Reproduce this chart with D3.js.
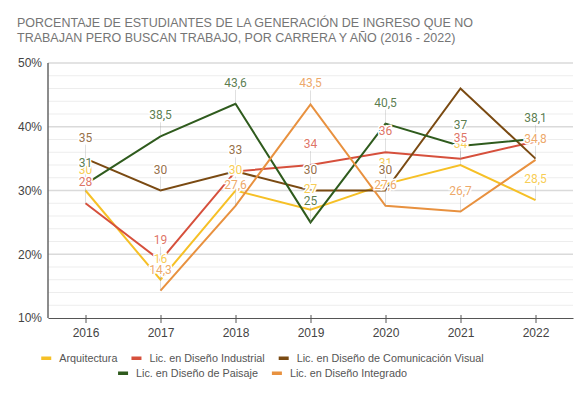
<!DOCTYPE html>
<html>
<head>
<meta charset="utf-8">
<script src="https://cdn.jsdelivr.net/npm/d3@7"></script>
<style>
  body { margin: 0; background: #fff; }
  text { font-family: Arial, "Liberation Sans", sans-serif; }
</style>
</head>
<body>
<div id="chart"></div>
<script>
// data
var years = ["2016", "2017", "2018", "2019", "2020", "2021", "2022"];
var arquitectura = [30, 16, 30, 27, 31, 34, 28.5];
var disenoIndustrial = [28, 19, 33, 34, 36, 35, 37.7];
var comunicacionVisual = [35, 30, 33, 30, 30, 46, 35];
var paisaje = [31, 38.5, 43.6, 25, 40.5, 37, 38.1];
var integrado = [null, 14.3, 27.6, 43.5, 27.6, 26.7, 34.8];
var seriesNames = ["Arquitectura", "Lic. en Diseño Industrial", "Lic. en Diseño de Comunicación Visual",
  "Lic. en Diseño de Paisaje", "Lic. en Diseño Integrado"];
var yTicks = [10, 20, 30, 40, 50];
// annotations the original leaves out (series index - year)
var hiddenLabels = ["1-2018", "1-2022", "2-2021", "2-2022"];

var colors = ["#f6c026", "#d6503c", "#7a4a12", "#2f5b1d", "#e8913f"];
var allSeries = [arquitectura, disenoIndustrial, comunicacionVisual, paisaje, integrado];

var svgWidth = 588;
var svgHeight = 395;
var margin = { top: 63, right: 15, bottom: 77, left: 48 };
var width = svgWidth - margin.left - margin.right;
var height = svgHeight - margin.top - margin.bottom;

var svg = d3.select("#chart")
  .append("svg")
  .attr("width", svgWidth)
  .attr("height", svgHeight);

// title
var title = svg.append("text")
  .attr("x", 17)
  .attr("y", 27)
  .style("font-size", "12.5px")
  .style("fill", "#757575");
title.append("tspan").attr("x", 17).text("PORCENTAJE DE ESTUDIANTES DE LA GENERACIÓN DE INGRESO QUE NO");
title.append("tspan").attr("x", 17).attr("dy", 15).text("TRABAJAN PERO BUSCAN TRABAJO, POR CARRERA Y AÑO (2016 - 2022)");

var chartGroup = svg.append("g")
  .attr("transform", `translate(${margin.left}, ${margin.top})`);

var xScale = d3.scalePoint()
  .domain(years)
  .range([0, width])
  .padding(0.5);

var yScale = d3.scaleLinear()
  .domain([10, 50])
  .range([height, 0]);

// minor + major gridlines
chartGroup.append("g")
  .selectAll("line")
  .data(d3.range(12, 50, 2).filter(v => v % 10 != 0))
  .enter()
  .append("line")
  .attr("x1", 0)
  .attr("x2", width)
  .attr("y1", d => yScale(d))
  .attr("y2", d => yScale(d))
  .attr("stroke", "#ededed");

chartGroup.append("g")
  .selectAll("line")
  .data(yTicks.slice(1))
  .enter()
  .append("line")
  .attr("x1", 0)
  .attr("x2", width)
  .attr("y1", d => yScale(d))
  .attr("y2", d => yScale(d))
  .attr("stroke", "#dadada")
  .attr("stroke-width", 1.5);

// y axis
var leftAxis = d3.axisLeft(yScale)
  .tickValues(yTicks)
  .tickSize(0)
  .tickPadding(6)
  .tickFormat(d => d + "%");

var yAxisG = chartGroup.append("g").call(leftAxis);
yAxisG.select(".domain").remove();
yAxisG.selectAll("text")
  .style("font-size", "12px")
  .style("font-family", "Arial, 'Liberation Sans', sans-serif")
  .style("fill", "#444");

// x axis
var bottomAxis = d3.axisBottom(xScale)
  .tickSize(5)
  .tickSizeOuter(0)
  .tickPadding(5);

var xAxisG = chartGroup.append("g")
  .attr("transform", `translate(0, ${height})`)
  .call(bottomAxis);
xAxisG.select(".domain").attr("stroke", "#555");
xAxisG.selectAll(".tick line").attr("stroke", "#555").attr("y1", -3);
xAxisG.selectAll("text")
  .style("font-size", "12px")
  .style("font-family", "Arial, 'Liberation Sans', sans-serif")
  .style("fill", "#444");

chartGroup.append("line")
  .attr("x1", 0).attr("x2", 0)
  .attr("y1", 0).attr("y2", height)
  .attr("stroke", "#666")
  .attr("stroke-width", 1.5);

// lines
var line = d3.line()
  .defined(d => d.v != null)
  .x(d => xScale(d.year))
  .y(d => yScale(d.v));

var seriesData = allSeries.map(function (vals, i) {
  return vals.map((v, j) => ({ year: years[j], v: v, s: i }));
});

chartGroup.selectAll(".series")
  .data(seriesData)
  .enter()
  .append("path")
  .attr("class", "series")
  .attr("d", line)
  .attr("fill", "none")
  .attr("stroke", (d, i) => colors[i])
  .attr("stroke-width", 2);

// annotations
var labelData = [];
seriesData.forEach(function (pts) {
  pts.forEach(function (p) {
    if (p.v != null && hiddenLabels.indexOf(p.s + "-" + p.year) < 0) labelData.push(p);
  });
});

chartGroup.selectAll(".stem")
  .data(labelData)
  .enter()
  .append("line")
  .attr("x1", d => xScale(d.year))
  .attr("x2", d => xScale(d.year))
  .attr("y1", d => yScale(d.v) - 14)
  .attr("y2", d => yScale(d.v))
  .attr("stroke", "#999")
  .attr("stroke-opacity", 0.3);

chartGroup.selectAll(".annot")
  .data(labelData)
  .enter()
  .append("text")
  .attr("x", d => xScale(d.year))
  .attr("y", d => yScale(d.v) - 17)
  .style("font-family", "Roboto, sans-serif")
  .style("font-size", "12px")
  .style("text-anchor", "middle")
  .style("fill", d => colors[d.s])
  .style("fill-opacity", 0.8)
  .style("stroke", "#fff")
  .style("stroke-width", 3)
  .style("paint-order", "stroke")
  .text(d => String(d.v).replace(".", ","));

// legend
var legendRows = [[0, 1, 2], [3, 4]];
var legendCenter = 262.5;
legendRows.forEach(function (row, r) {
  var g = svg.append("g");
  var xpos = 0;
  row.forEach(function (i) {
    g.append("rect")
      .attr("x", xpos)
      .attr("y", -1.5)
      .attr("width", 10)
      .attr("height", 3.5)
      .attr("fill", colors[i]);
    var t = g.append("text")
      .attr("x", xpos + 18)
      .attr("y", 4)
      .style("font-size", "10.8px")
      .style("fill", "#555")
      .text(seriesNames[i]);
    xpos += 18 + t.node().getComputedTextLength() + 14;
  });
  var total = xpos - 14;
  g.attr("transform", `translate(${legendCenter - total / 2}, ${358 + r * 15})`);
});
</script>
</body>
</html>
